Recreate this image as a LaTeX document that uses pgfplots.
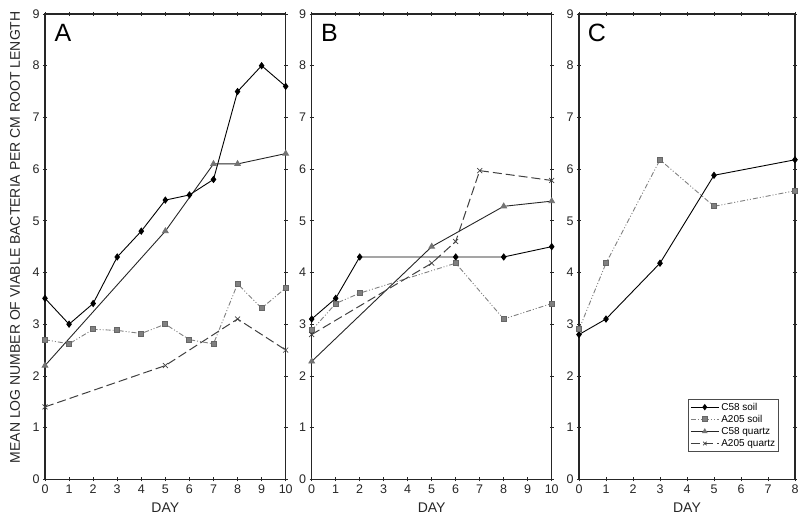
\documentclass[border=0pt]{standalone}
\usepackage{pgfplots}
\pgfplotsset{compat=1.18}
\usepackage{fontspec}
\setmainfont{Liberation Sans}
\begin{document}
\begin{tikzpicture}
\path[use as bounding box] (0pt,0pt) rectangle (800pt,518pt);
\pgfplotsset{
  panel/.style={
    scale only axis, height=465.3pt,
    ymin=0, ymax=9, ytick={0,...,9},
    axis line style={line width=1.1pt, black!85},
    tick align=center, major tick length=4pt,
    tick style={line width=0.7pt, black!85},
    /pgf/number format/assume math mode=true,
    tick label style={font=\fontsize{12.5}{14}\selectfont, black!85},
    xlabel={DAY},
    xlabel style={font=\fontsize{14}{16}\selectfont, black!85, yshift=-2pt},
    clip=false,
  },
  c58soil/.style={black, line width=0.9pt, mark=diamond*, mark size=3pt, mark options={solid, fill=black}},
  a205soil/.style={black!50, line width=0.9pt, dash pattern=on 5pt off 2pt on 1pt off 2pt on 1pt off 2pt, mark=square*, mark size=2.5pt, mark options={solid, fill=black!50, draw=black!60}},
  c58quartz/.style={black!85, line width=0.9pt, mark=triangle*, mark size=3.2pt, mark options={solid, fill=black!55, draw=black!55}},
  a205quartz/.style={black!75, line width=1pt, dash pattern=on 9pt off 4pt, mark=x, mark size=3.5pt, mark options={solid, line width=0.7pt}},
}
% Panel A
\begin{axis}[panel, at={(45pt,38.7pt)}, anchor=south west, width=240.7pt,
  xmin=0, xmax=10, xtick={0,...,10},
  ylabel={MEAN LOG NUMBER OF VIABLE BACTERIA PER CM ROOT LENGTH},
  ylabel style={at={(axis description cs:-0.1246,0.52)}, anchor=center, font=\fontsize{14}{16}\selectfont, black!85}]
\addplot[c58soil] coordinates {(0,3.5)(1,3.0)(2,3.4)(3,4.3)(4,4.8)(5,5.4)(6,5.5)(7,5.8)(8,7.5)(9,8.0)(10,7.6)};
\addplot[a205soil] coordinates {(0,2.7)(1,2.62)(2,2.9)(3,2.88)(4,2.82)(5,3.0)(6,2.7)(7,2.62)(8,3.78)(9,3.31)(10,3.7)};
\addplot[c58quartz] coordinates {(0,2.2)(5,4.8)(7,6.1)(8,6.1)(10,6.3)};
\addplot[a205quartz] coordinates {(0,1.4)(5,2.2)(8,3.1)(10,2.5)};
\node[anchor=north west, font=\fontsize{25}{28}\selectfont] at (rel axis cs:0.025,0.985) {A};
\end{axis}
% Panel B
\begin{axis}[panel, at={(311.7pt,38.7pt)}, anchor=south west, width=240pt,
  xmin=0, xmax=10, xtick={0,...,10}]
\addplot[c58soil] coordinates {(0,3.1)(1,3.5)(2,4.3)(6,4.3)(8,4.3)(10,4.5)};
\addplot[a205soil] coordinates {(0,2.88)(1,3.4)(2,3.6)(6,4.18)(8,3.1)(10,3.4)};
\addplot[c58quartz] coordinates {(0,2.28)(5,4.5)(8,5.28)(10,5.38)};
\addplot[a205quartz] coordinates {(0,2.8)(5,4.18)(6,4.6)(7,5.97)(10,5.78)};
\node[anchor=north west, font=\fontsize{25}{28}\selectfont] at (rel axis cs:0.025,0.985) {B};
\end{axis}
% Panel C
\begin{axis}[panel, at={(579pt,38.7pt)}, anchor=south west, width=216pt,
  xmin=0, xmax=8, xtick={0,...,8},
  legend style={at={(rel axis cs:0.926,0.1726)}, anchor=north east,
    font=\fontsize{10}{11}\selectfont, draw=black!70, line width=0.6pt,
    inner sep=1.5pt, row sep=-0.5pt, cells={anchor=west}},
  legend image code/.code={\draw[mark repeat=2,mark phase=2,#1] plot coordinates {(0pt,0pt)(14pt,0pt)(28pt,0pt)};},
  legend image post style={mark size=2.5pt},
  legend cell align=left]
\addplot[c58soil] coordinates {(0,2.8)(1,3.1)(3,4.18)(5,5.88)(8,6.18)};
\addlegendentry{C58 soil}
\addplot[a205soil] coordinates {(0,2.9)(1,4.18)(3,6.18)(5,5.28)(8,5.58)};
\addlegendentry{A205 soil}
\addlegendimage{c58quartz}
\addlegendentry{C58 quartz}
\addlegendimage{a205quartz}
\addlegendentry{A205 quartz}
\node[anchor=north west, font=\fontsize{25}{28}\selectfont] at (rel axis cs:0.025,0.985) {C};
\end{axis}
\end{tikzpicture}
\end{document}
